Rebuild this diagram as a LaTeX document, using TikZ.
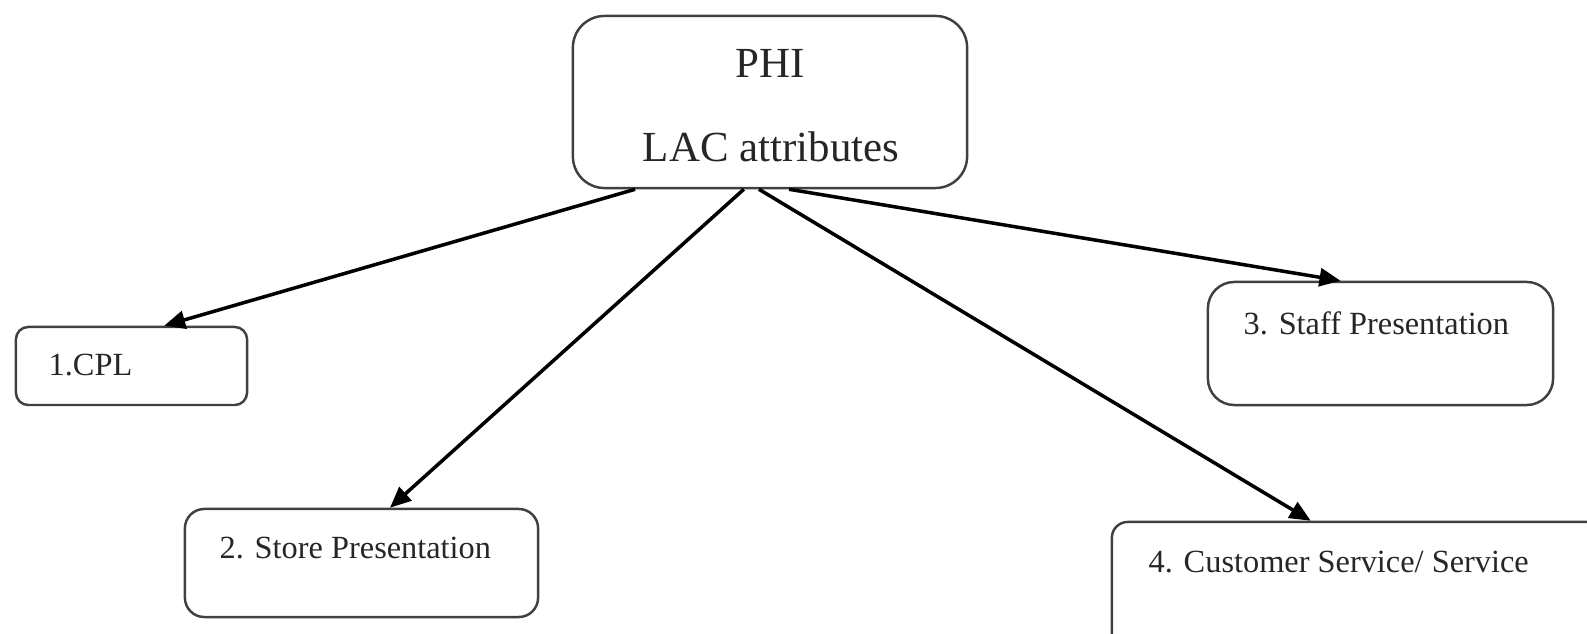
\documentclass[tikz,border=0pt]{standalone}
\usepackage{fontspec}
\setmainfont{Liberation Serif}
\usetikzlibrary{arrows.meta,calc}
\tikzset{
  box/.style={draw=black!75,line width=0.7pt,inner sep=0pt},
  lbl/.style={inner sep=0pt,anchor=base west,text=black!85,font=\fontsize{9.2}{11}\selectfont},
  toplbl/.style={inner sep=0pt,anchor=base,text=black!85,font=\fontsize{12.2}{14}\selectfont},
  link/.style={line width=1pt,-{Triangle[length=0.21cm,width=0.18cm]}}
}
\begin{document}
\begin{tikzpicture}[x=0.01cm,y=-0.01cm]
\useasboundingbox (0,0) rectangle (1587,634);
% boxes
\node[box,rounded corners=9pt,minimum width=3.94cm,minimum height=1.72cm] (phi) at (770,102) {};
\node[box,rounded corners=3.5pt,minimum width=2.31cm,minimum height=0.78cm] (cpl) at (131.5,366) {};
\node[box,rounded corners=5.5pt,minimum width=3.53cm,minimum height=1.08cm] (store) at (361.5,563) {};
\node[box,rounded corners=7.5pt,minimum width=3.45cm,minimum height=1.23cm] (staff) at (1380.5,343.5) {};
\node[box,rounded corners=4.5pt,minimum width=4.9cm,minimum height=1.3cm] (cust) at (1357,587) {};
% texts
\node[toplbl] (phitxt) at (770,78) {PHI};
\node[toplbl] (lactxt) at (771,162) {LAC attributes};
\node[lbl] (cpltxt) at (48,376) {1.CPL};
\node[lbl] (storetxt) at (219,559) {2. Store Presentation};
\node[lbl] (stafftxt) at (1243,335) {3. Staff Presentation};
\node[lbl] (custtxt) at (1148,573) {4. Customer Service/ Service};
% arrows
\draw[link] ($(phi.south west)!0.16!(phi.south east)$) -- ($(cpl.north west)!0.64!(cpl.north east)$);
\draw[link] ($(phi.south west)!0.434!(phi.south east)$) -- ($(store.north west)!0.58!(store.north east)$);
\draw[link] ($(phi.south west)!0.472!(phi.south east)$) -- ($(cust.north west)!0.406!(cust.north east)$);
\draw[link] ($(phi.south west)!0.548!(phi.south east)$) -- ($(staff.north west)!0.385!(staff.north east)$);
\end{tikzpicture}
\end{document}
